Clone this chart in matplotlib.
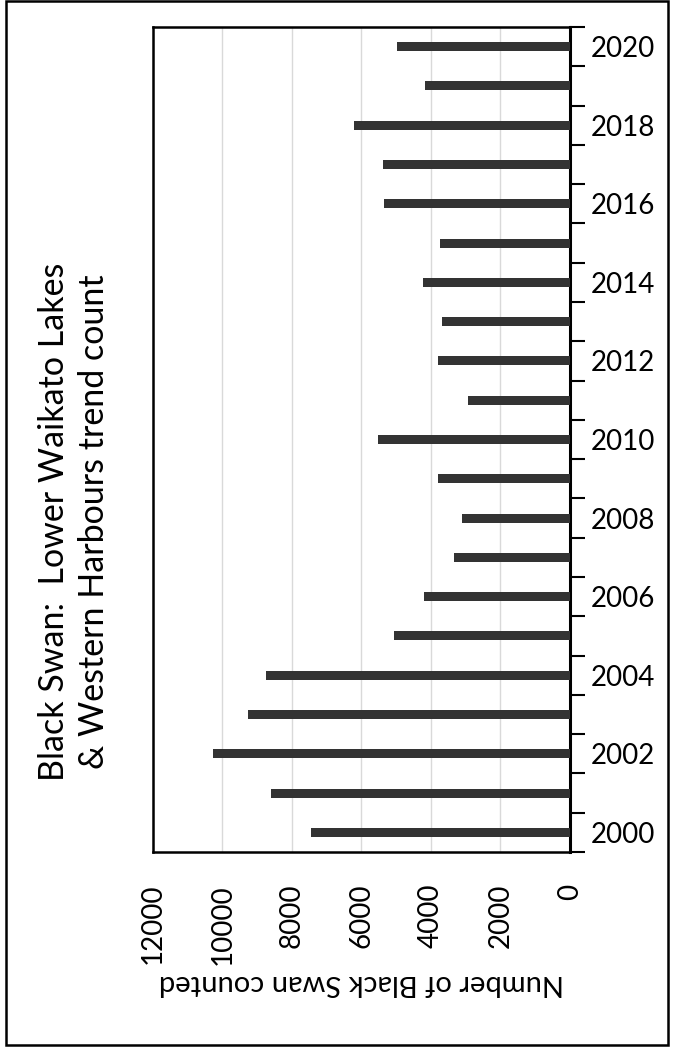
import matplotlib.pyplot as plt
import numpy as np
from matplotlib.patches import Rectangle

plt.rcParams['font.family'] = ['Lato', 'DejaVu Sans']

# Data
years = np.arange(2000, 2021)
counts = [7460, 8590, 10260, 9260, 8750, 5050, 4210, 3325, 3115, 3810,
          5530, 2920, 3810, 3690, 4230, 3730, 5345, 5385, 6210, 4160, 4990]
value_ticks = [0, 2000, 4000, 6000, 8000, 10000, 12000]
year_labels = years[::2]

fig = plt.figure(figsize=(6.73, 10.49), dpi=100)
ax = fig.add_axes([0.2273, 0.1878, 0.6196, 0.7865])

ax.barh(years, counts, height=0.23, color='#333333', zorder=3)

# value axis runs right-to-left, years on the right side
ax.set_xlim(12000, 0)
ax.set_ylim(1999.5, 2020.5)
ax.set_xticks(value_ticks)
ax.set_xticklabels([str(v) for v in value_ticks], rotation=90, va='top', ha='center')
ax.tick_params(axis='x', length=0, pad=23, labelsize=20)
ax.xaxis.grid(True, color='#d9d9d9', linewidth=1, zorder=0)

ax.yaxis.tick_right()
ax.set_yticks(year_labels)
ax.set_yticks(np.arange(1999.5, 2021), minor=True)
ax.tick_params(axis='y', which='major', length=0, pad=15, labelsize=20)
ax.tick_params(axis='y', which='minor', length=11, width=1.5, direction='out')

for s in ax.spines.values():
    s.set_linewidth(1.8)
    s.set_color('black')
ax.spines['right'].set_linewidth(2.2)

ax.set_xlabel('Number of Black Swan counted', fontsize=21, rotation=180, labelpad=4)

fig.text(0.11, 0.503, 'Black Swan:  Lower Waikato Lakes\n& Western Harbours trend count',
         rotation=90, ha='center', va='center', fontsize=24.5, linespacing=1.3)

fig.patches.append(Rectangle((0.009, 0.004), 0.984, 0.995, transform=fig.transFigure,
                             fill=False, edgecolor='black', linewidth=1.8))

fig.savefig('out.png', dpi=100)
